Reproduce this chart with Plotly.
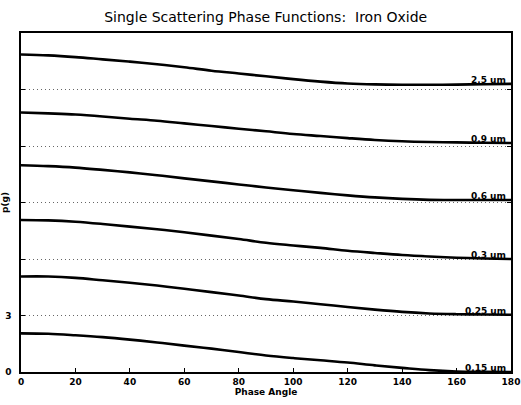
import plotly.graph_objects as go

angles = [0, 10, 20, 30, 40, 50, 60, 70, 80, 90, 100, 110, 120, 130, 140, 150, 160, 170, 180]

sizes = ["2.5 um", "0.9 um", "0.6 um", "0.3 um", "0.25 um", "0.15 um"]
offsets = [15, 12, 9, 6, 3, 0]

p_25 = [1.86, 1.81, 1.72, 1.60, 1.48, 1.34, 1.18, 1.00, 0.85, 0.70, 0.55, 0.42, 0.32, 0.27, 0.25, 0.25, 0.26, 0.28, 0.30]
p_09 = [1.78, 1.73, 1.67, 1.57, 1.45, 1.34, 1.20, 1.06, 0.92, 0.78, 0.64, 0.53, 0.42, 0.32, 0.25, 0.21, 0.19, 0.17, 0.16]
p_06 = [1.98, 1.93, 1.85, 1.73, 1.60, 1.45, 1.28, 1.12, 0.96, 0.80, 0.65, 0.51, 0.38, 0.27, 0.19, 0.14, 0.13, 0.13, 0.13]
p_03 = [2.07, 2.05, 1.98, 1.86, 1.72, 1.58, 1.42, 1.24, 1.06, 0.86, 0.72, 0.59, 0.44, 0.32, 0.21, 0.13, 0.07, 0.03, 0.00]
p_025 = [2.07, 2.07, 2.00, 1.87, 1.74, 1.59, 1.42, 1.24, 1.06, 0.87, 0.74, 0.60, 0.45, 0.31, 0.19, 0.11, 0.07, 0.05, 0.04]
p_015 = [2.05, 2.03, 1.95, 1.85, 1.72, 1.57, 1.40, 1.24, 1.06, 0.88, 0.74, 0.62, 0.50, 0.35, 0.22, 0.10, 0.03, 0.01, 0.00]

series = [p_25, p_09, p_06, p_03, p_025, p_015]

x_ticks = [0, 20, 40, 60, 80, 100, 120, 140, 160, 180]
y_ticks = [0, 3, 6, 9, 12, 15]
y_ticktext = ["0", "3", "", "", "", ""]

FONT = "DejaVu Sans"

fig = go.Figure()
annotations = []
for name, off, vals in zip(sizes, offsets, series):
    yv = [v + off for v in vals]
    fig.add_trace(go.Scatter(x=angles, y=yv, mode="lines", name=name,
                             line=dict(color="black", width=2.6, shape="spline"),
                             showlegend=False, hoverinfo="skip"))
    annotations.append(dict(x=179, y=yv[-1], xref="x", yref="y", text=name,
                            showarrow=False, xanchor="right", yanchor="bottom",
                            yshift=-3, font=dict(family=FONT, size=9, color="black", weight="bold")))

fig.update_layout(
    width=521, height=405,
    margin=dict(l=21, r=10, t=33, b=33, autoexpand=False),
    paper_bgcolor="white", plot_bgcolor="white",
    title=dict(text="Single Scattering Phase Functions:  Iron Oxide",
               x=0.51, xanchor="center", y=0.958, yanchor="middle",
               font=dict(family=FONT, size=14, color="black")),
    annotations=annotations,
    font=dict(family=FONT, color="black"),
)

fig.update_xaxes(range=[0, 180], tickvals=x_ticks, ticks="inside", ticklen=4,
                 tickcolor="black", showline=True, linecolor="black", linewidth=1.5,
                 mirror=True, showgrid=False, zeroline=False, automargin=False,
                 tickfont=dict(family=FONT, size=9, weight="bold"),
                 title=dict(text="Phase Angle", standoff=0,
                            font=dict(family=FONT, size=9, weight="bold")))

fig.update_yaxes(range=[0, 18], tickvals=y_ticks, ticktext=y_ticktext, ticks="inside",
                 ticklen=4, tickcolor="black", showline=True, linecolor="black",
                 linewidth=1.5, mirror="allticks", showgrid=True, gridcolor="#666666",
                 griddash="1px,3px", gridwidth=1, zeroline=False, automargin=False,
                 ticklabelstandoff=6,
                 tickfont=dict(family=FONT, size=9, weight="bold"),
                 title=dict(text="p(g)", standoff=0,
                            font=dict(family=FONT, size=9, weight="bold")))

fig.write_html("out.html", config={"displayModeBar": False},
               post_script="document.body.style.margin='0';")
